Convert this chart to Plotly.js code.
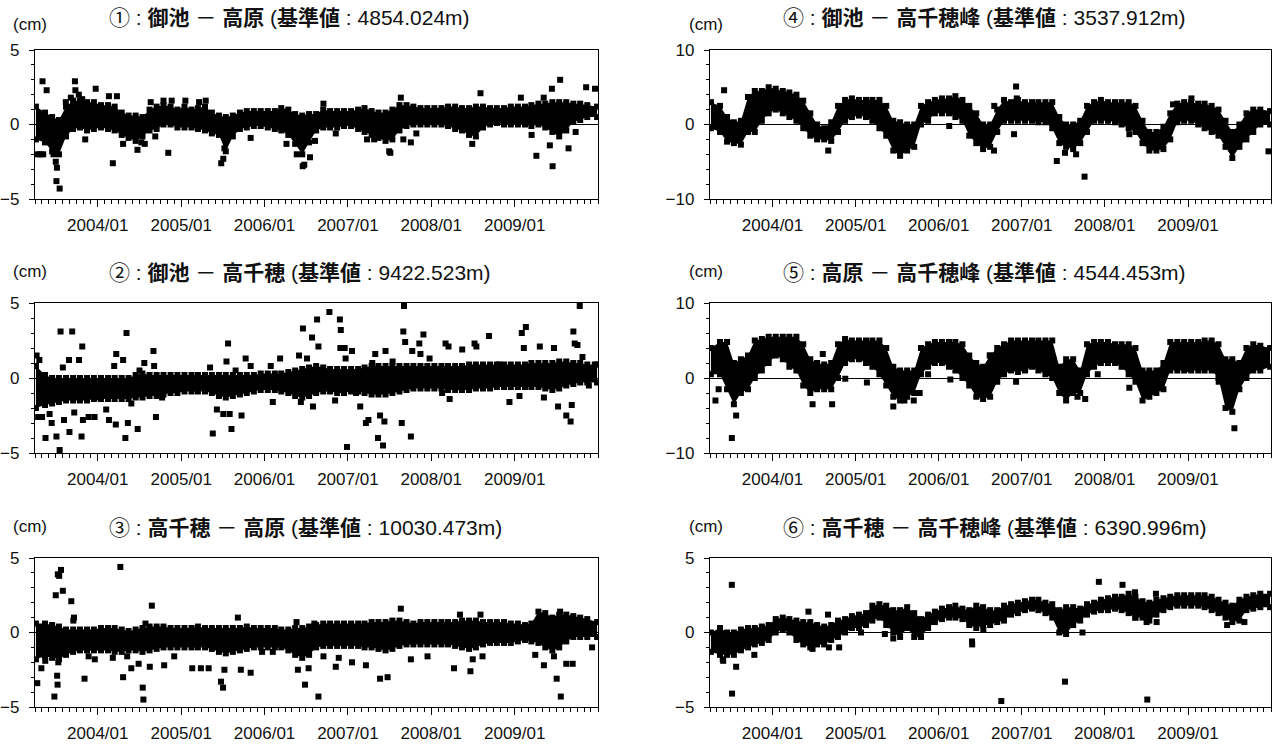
<!DOCTYPE html>
<html><head><meta charset="utf-8">
<script src="https://cdn.plot.ly/plotly-3.0.1.min.js"></script>
<style>html,body{margin:0;padding:0;background:#fff;}#chart{width:1276px;height:747px;}</style>
</head><body><div id="chart"></div>
<script>
// ---- Titles ----
const titles = [
  "① : <b>御池</b> － <b>高原</b> (<b>基準値</b> : 4854.024m)",
  "④ : <b>御池</b> － <b>高千穂峰</b> (<b>基準値</b> : 3537.912m)",
  "② : <b>御池</b> － <b>高千穂</b> (<b>基準値</b> : 9422.523m)",
  "⑤ : <b>高原</b> － <b>高千穂峰</b> (<b>基準値</b> : 4544.453m)",
  "③ : <b>高千穂</b> － <b>高原</b> (<b>基準値</b> : 10030.473m)",
  "⑥ : <b>高千穂</b> － <b>高千穂峰</b> (<b>基準値</b> : 6390.996m)"
];
const yUnit = "(cm)";
const tickFmt = "%Y/%m";
const yearTicks = ['2004-01-01','2005-01-01','2006-01-01','2007-01-01','2008-01-01','2009-01-01'];

// ---- Monthly observation months (2003/04 .. 2009/12) ----
const firstMonth = [2003, 4];
const monthCount = 81;

// ---- Panel 1: dense band upper / lower edge (cm) ----
const p1Hi = [1.2,0.8,0.5,0.3,1.2,1.6,1.6,1.5,1.5,
 1.3,1.3,1.2,0.8,0.6,0.6,0.5,1.0,1.2,1.3,1.2,1.0,
 1.2,1.0,1.1,1.2,0.8,0.6,0.5,0.6,0.8,0.9,0.9,0.9,
 0.9,0.9,1.1,1.0,0.7,0.6,0.7,0.7,1.0,0.9,0.9,0.9,
 0.9,1.0,1.1,0.9,0.8,0.8,1.0,1.3,1.3,1.2,1.1,1.1,
 1.1,1.1,1.2,1.2,1.1,1.1,1.2,1.2,1.1,1.1,1.1,1.2,
 1.2,1.2,1.3,1.4,1.4,1.5,1.5,1.5,1.4,1.4,1.3,1.2];
const p1Lo = [-1.0,-1.2,-1.8,-2.0,-0.8,-0.3,-0.2,-0.4,-0.3,
 -0.2,-0.3,-0.4,-0.7,-0.9,-1.1,-0.8,-0.4,-0.3,0.0,0.0,-0.2,
 -0.2,-0.2,-0.3,-0.4,-0.6,-0.7,-1.8,-0.8,-0.3,-0.2,-0.1,-0.1,
 -0.2,-0.3,-0.4,-0.7,-1.3,-2.0,-1.2,-0.4,-0.2,-0.2,-0.2,-0.1,
 -0.1,-0.3,-0.5,-0.7,-0.9,-1.1,-1.0,-0.4,-0.1,0.0,0.0,0.0,
 0.0,0.0,-0.1,-0.3,-0.4,-0.7,-0.8,-0.2,0.0,0.1,0.0,0.0,
 0.0,0.0,-0.1,0.0,-0.2,-0.5,-0.8,-0.4,0.2,0.3,0.5,0.5];
const p1OutDates = ['2003-04-11','2003-04-25','2003-05-07','2003-05-04','2003-05-22','2003-06-21','2003-07-01','2003-07-06','2003-07-04','2003-07-18','2003-08-14','2003-09-05','2003-09-23','2003-09-25','2003-10-10','2003-10-25','2003-11-07','2003-12-23','2004-02-19','2004-03-07','2004-03-25','2004-04-21','2004-06-23','2004-07-10','2004-07-25','2004-08-20','2004-09-09','2004-10-15','2004-11-05','2004-11-20','2005-01-19','2005-03-20','2005-04-18','2005-06-25','2005-07-04','2005-07-09','2005-11-01','2006-04-07','2006-05-22','2006-06-17','2006-06-24','2006-07-19','2006-08-10','2006-09-16','2006-11-09','2007-03-26','2007-04-26','2007-07-01','2007-07-06','2007-08-21','2007-09-01','2007-10-04','2007-10-28','2008-06-29','2008-08-04','2009-01-28','2009-03-16','2009-04-06','2009-05-08','2009-06-04','2009-06-13','2009-06-16','2009-07-19','2009-08-25','2009-09-25','2009-11-10','2009-12-19'];
const p1OutVals = [-2.0,-2.0,-2.0,2.9,2.3,-2.0,-2.5,-2.9,-3.8,-4.3,1.5,1.8,2.9,2.3,2.0,1.7,-1.0,2.4,1.9,-2.6,1.9,-1.3,-1.7,-1.2,-1.3,1.5,-0.8,1.6,-1.9,1.6,1.6,1.5,1.6,-2.6,-2.3,-1.6,-0.9,-1.3,-2.0,-2.8,-2.7,-2.2,-1.1,1.4,-0.6,-1.0,-1.0,-1.8,-1.9,1.8,-1.0,-1.2,-0.6,-1.3,2.1,1.8,-0.7,-2.1,1.8,-1.4,2.4,-2.8,3.0,-1.6,-0.5,2.5,2.4];

// ---- Panel 2 ----
const p2Hi = [0.8,0.2,0.0,0.0,0.0,0.0,0.0,0.0,0.0,
 0.0,0.0,0.0,0.0,0.0,0.2,0.3,0.2,0.2,0.2,0.2,0.2,
 0.2,0.2,0.2,0.2,0.2,0.2,0.2,0.2,0.2,0.2,0.2,0.3,
 0.3,0.3,0.3,0.4,0.5,0.6,0.7,0.8,0.7,0.6,0.6,0.6,
 0.6,0.6,0.7,0.8,0.8,0.8,0.8,0.8,0.8,0.8,0.8,0.8,
 0.8,0.8,0.8,0.8,0.8,0.9,0.9,0.9,0.9,0.9,0.9,0.9,
 0.9,0.9,1.0,1.0,1.0,1.0,1.1,1.1,1.0,1.0,0.9,0.9];
const p2Lo = [-2.0,-1.8,-1.7,-1.6,-1.5,-1.5,-1.5,-1.5,-1.4,
 -1.4,-1.4,-1.4,-1.4,-1.4,-1.3,-1.3,-1.2,-1.2,-1.1,-1.0,-1.0,
 -0.9,-0.9,-0.9,-0.9,-1.0,-1.2,-1.3,-1.2,-1.1,-1.0,-0.9,-0.8,
 -0.8,-0.8,-0.9,-1.0,-1.2,-1.3,-1.2,-1.0,-0.9,-0.9,-1.0,-1.0,
 -0.9,-0.9,-1.0,-1.1,-1.1,-1.1,-1.0,-0.9,-0.8,-0.7,-0.7,-0.7,
 -0.7,-0.7,-0.8,-0.8,-0.8,-0.8,-0.7,-0.7,-0.7,-0.6,-0.6,-0.6,
 -0.6,-0.6,-0.6,-0.6,-0.7,-0.8,-0.7,-0.5,-0.4,-0.3,-0.3,-0.3];
const p2OutDates = ['2003-04-08','2003-04-20','2003-04-15','2003-05-02','2003-05-17','2003-06-04','2003-06-13','2003-07-04','2003-07-18','2003-07-22','2003-08-01','2003-08-06','2003-08-28','2003-08-30','2003-09-11','2003-09-20','2003-10-11','2003-10-22','2003-10-25','2003-10-28','2003-11-22','2003-12-18','2004-01-06','2004-02-07','2004-02-19','2004-03-13','2004-03-22','2004-03-20','2004-04-21','2004-05-01','2004-05-06','2004-05-12','2004-05-27','2004-06-24','2004-07-02','2004-07-23','2004-09-01','2004-09-04','2004-09-12','2004-10-09','2005-05-07','2005-05-19','2005-06-06','2005-07-04','2005-07-18','2005-07-25','2005-08-01','2005-08-09','2005-08-27','2005-09-22','2005-10-10','2005-11-01','2006-01-28','2006-02-06','2006-03-10','2006-06-01','2006-06-09','2006-06-18','2006-07-06','2006-07-28','2006-08-01','2006-08-19','2006-08-25','2006-10-12','2006-11-06','2006-11-27','2006-12-01','2006-11-29','2006-12-18','2006-12-22','2006-12-28','2007-01-19','2007-02-06','2007-02-24','2007-03-21','2007-04-01','2007-04-18','2007-05-01','2007-05-13','2007-05-22','2007-06-04','2007-06-10','2007-06-15','2007-07-16','2007-08-25','2007-09-01','2007-09-04','2007-09-09','2007-09-26','2007-10-04','2007-10-10','2007-11-10','2007-11-15','2007-11-28','2007-12-25','2008-02-18','2008-03-04','2008-03-17','2008-03-22','2008-05-16','2008-07-09','2008-07-17','2008-09-10','2008-10-25','2008-12-09','2009-01-22','2009-02-01','2009-02-10','2009-02-19','2009-04-21','2009-05-09','2009-06-22','2009-07-10','2009-08-15','2009-09-03','2009-09-08','2009-09-15','2009-09-21','2009-10-03','2009-10-13','2009-10-25','2009-11-22','2009-12-18'];
const p2OutVals = [1.5,1.2,-2.6,-2.6,-4.0,-2.4,-3.0,-3.9,-4.8,3.1,0.7,-2.8,1.2,-3.6,3.1,-2.3,1.2,-3.9,2.1,-2.8,-2.6,-2.6,-1.3,-2.1,-2.8,0.8,1.6,-3.1,1.2,-4.0,3.0,-3.0,-1.7,-3.4,0.5,1.0,1.8,0.8,-2.6,-1.3,0.7,-3.7,-2.1,-2.4,1.1,2.3,-2.4,-3.4,0.5,-2.5,1.3,0.8,0.8,-1.6,1.3,1.5,-1.6,3.3,1.3,2.7,-1.9,3.9,2.1,4.4,-1.5,3.9,3.2,2.0,2.0,1.3,-4.6,1.8,-1.0,-1.9,-3.0,-2.8,1.0,1.6,-4.0,-2.5,-4.5,-2.9,1.8,1.1,-3.0,3.1,4.8,2.4,0.6,-3.9,1.8,2.3,1.6,2.9,1.3,-1.0,2.3,2.1,-1.4,1.9,2.3,2.1,2.8,0.9,-1.6,-1.2,3.0,2.0,3.4,2.1,-1.3,2.0,-1.9,-2.5,-2.9,-1.8,3.1,2.3,2.2,4.8,1.4,-0.5,0.9];

// ---- Panel 3 ----
const p3Hi = [0.6,0.6,0.5,0.4,0.2,0.2,0.2,0.2,0.2,
 0.3,0.3,0.3,0.2,0.1,0.2,0.3,0.4,0.4,0.4,0.3,0.3,
 0.3,0.3,0.4,0.3,0.3,0.3,0.3,0.3,0.3,0.4,0.3,0.3,
 0.3,0.3,0.2,0.2,0.3,0.3,0.4,0.5,0.6,0.6,0.6,0.6,
 0.6,0.6,0.6,0.7,0.7,0.7,0.8,0.8,0.7,0.6,0.7,0.7,
 0.7,0.7,0.7,0.7,0.8,0.8,0.8,0.7,0.7,0.7,0.7,0.6,
 0.6,0.5,0.6,1.4,1.3,1.0,1.2,1.2,1.1,1.0,0.9,0.7];
const p3Lo = [-1.8,-1.6,-1.7,-1.8,-1.5,-1.3,-1.2,-1.2,-1.2,
 -1.2,-1.2,-1.3,-1.3,-1.2,-1.2,-1.3,-1.2,-1.1,-1.0,-1.0,-1.0,
 -1.0,-1.0,-1.0,-1.0,-1.1,-1.3,-1.4,-1.3,-1.2,-1.1,-1.0,-1.0,
 -1.0,-1.0,-1.0,-1.2,-1.5,-1.7,-1.5,-1.0,-0.9,-0.9,-0.9,-0.9,
 -0.9,-0.9,-1.0,-1.0,-1.1,-1.2,-1.1,-0.9,-0.8,-0.8,-0.8,-0.8,
 -0.8,-0.8,-0.8,-0.9,-1.0,-1.1,-1.0,-0.8,-0.7,-0.7,-0.7,-0.7,
 -0.6,-0.5,-0.6,-0.7,-1.0,-1.2,-1.0,-0.6,-0.3,-0.3,-0.3,-0.3];
const p3OutDates = ['2003-04-11','2003-04-29','2003-05-16','2003-06-25','2003-07-01','2003-07-07','2003-07-09','2003-07-10','2003-07-16','2003-07-24','2003-08-01','2003-07-12','2003-09-07','2003-09-16','2003-09-19','2003-11-04','2003-11-22','2003-12-19','2004-03-07','2004-04-09','2004-04-21','2004-05-09','2004-05-27','2004-06-28','2004-07-16','2004-07-19','2004-07-28','2004-08-16','2004-08-25','2004-10-18','2004-12-01','2005-02-18','2005-03-28','2005-05-01','2005-06-24','2005-07-03','2005-07-09','2005-09-06','2005-09-19','2005-11-01','2005-12-21','2006-02-06','2006-05-21','2006-05-27','2006-06-27','2006-07-13','2006-08-07','2006-08-25','2006-09-16','2006-11-09','2006-11-22','2007-01-19','2007-03-21','2007-05-22','2007-06-24','2007-08-21','2007-10-04','2007-12-16','2008-04-10','2008-05-06','2008-06-21','2008-07-01','2008-08-04','2008-08-13','2009-04-01','2009-05-09','2009-06-22','2009-07-04','2009-07-19','2009-07-22','2009-08-15','2009-09-12','2009-12-06'];
const p3OutVals = [-3.4,-2.4,-1.9,-4.3,2.5,-2.9,-3.5,3.9,3.8,4.2,2.8,-2.0,2.1,0.8,1.0,-3.1,-1.6,-1.8,-1.7,4.4,-3.0,-1.6,-2.4,-2.1,-3.7,-4.5,0.6,-2.3,1.8,-2.2,-1.6,-2.4,-2.4,-2.4,-3.3,-3.7,-2.5,1.0,-2.5,-2.7,-1.3,-1.3,0.7,-2.5,-3.5,-2.4,0.6,-4.3,-1.6,-2.3,-1.7,-2.0,-2.2,-3.1,-3.0,1.6,-1.8,-1.6,-2.4,1.2,-2.6,-1.8,1.2,-1.6,-1.5,-2.2,-1.6,-3.1,1.4,-4.3,-2.1,-2.1,-1.0];

// ---- Panel 4 ----
const p4Hi = [3.0,2.5,1.0,0.3,0.5,3.7,4.5,4.5,5.0,
 4.8,4.5,4.3,4.0,3.2,1.5,0.0,-0.5,0.3,2.5,3.3,3.5,
 3.3,3.3,3.3,3.3,2.5,0.5,0.3,0.0,0.0,2.5,3.0,3.3,
 3.5,3.5,3.8,3.3,2.5,1.5,0.0,0.0,2.0,3.3,3.0,3.3,
 3.0,3.0,3.0,3.0,3.0,1.0,0.0,0.0,0.5,2.5,3.0,3.3,
 3.0,3.0,3.0,3.0,2.5,0.5,-1.0,-1.0,-0.3,1.5,2.8,3.0,
 3.0,2.8,2.8,2.5,2.0,0.5,-1.0,0.0,1.5,2.0,2.0,1.8];
const p4Lo = [-0.5,-1.0,-2.3,-2.5,-2.7,-1.0,-1.0,0.5,1.5,
 2.0,1.5,1.0,0.5,-0.5,-1.5,-2.0,-2.0,-2.2,-1.0,0.5,1.0,
 1.2,1.0,0.5,-0.5,-1.5,-3.5,-4.2,-3.5,-3.0,0.0,0.5,1.5,
 1.5,1.5,1.0,0.5,-1.5,-2.5,-3.3,-3.0,-1.0,0.5,0.5,0.5,
 0.5,0.5,0.3,0.3,-0.5,-2.5,-3.0,-3.3,-2.5,-1.0,0.5,0.5,
 0.5,0.3,0.0,-0.5,-1.0,-2.5,-3.5,-3.5,-3.3,-2.0,0.3,0.5,
 0.5,0.0,-0.5,-1.0,-1.5,-3.0,-4.5,-3.0,-2.0,-1.0,0.0,0.0];
const p4OutDates = ['2003-06-02','2004-09-02','2006-02-16','2006-09-01','2006-09-02','2006-11-28','2006-12-07','2006-12-10','2007-06-04','2007-07-10','2007-08-28','2007-10-04','2008-04-18','2008-10-27','2009-01-16','2009-12-21'];
const p4OutVals = [4.6,-3.5,-0.2,-3.5,2.5,-1.3,5.1,3.5,-4.9,-3.8,-4.0,-7.0,-1.3,2.7,3.5,-3.6];

// ---- Panel 5 ----
const p5Hi = [4.0,4.8,4.8,2.0,2.5,3.0,5.0,5.2,5.5,
 5.5,5.5,5.5,5.5,4.5,2.5,2.0,1.8,2.0,4.5,5.2,5.0,
 5.0,5.0,5.0,5.0,4.0,1.5,1.0,1.0,1.0,4.0,4.5,4.8,
 4.8,4.8,4.8,4.5,3.0,2.0,1.5,3.0,4.0,4.5,5.0,5.0,
 5.0,5.0,5.0,5.0,5.0,1.5,2.5,2.5,1.0,4.5,4.8,4.8,
 4.8,4.5,4.5,4.5,4.0,1.0,1.0,1.0,2.0,4.8,4.8,4.8,
 4.8,4.8,5.0,5.0,4.5,2.5,2.5,2.0,4.0,4.5,4.3,4.0];
const p5Lo = [0.5,0.5,-1.5,-3.5,-2.0,-1.5,0.0,1.0,2.0,
 3.0,2.5,1.5,1.0,-1.0,-2.0,-1.5,-1.5,-1.5,0.0,2.0,2.5,
 2.5,2.0,1.5,0.5,-1.0,-2.5,-3.0,-2.5,-2.0,0.5,1.5,2.0,
 2.0,1.5,1.0,0.0,-1.0,-2.5,-2.8,-2.5,-0.5,0.5,1.0,0.8,
 1.0,1.5,1.0,0.5,0.0,-2.0,-3.0,-2.0,-2.0,0.5,1.5,2.0,
 2.0,2.0,1.5,0.5,-0.5,-3.0,-2.5,-2.0,-1.5,1.0,1.0,1.0,
 1.0,1.0,1.0,1.0,0.0,-4.0,-4.5,-1.5,0.0,1.0,1.0,1.5];
const p5OutDates = ['2003-04-25','2003-05-09','2003-07-06','2003-07-25','2004-06-25','2004-08-09','2004-09-19','2004-11-16','2005-02-19','2005-06-15','2005-08-03','2005-09-13','2005-10-09','2005-11-15','2006-02-21','2006-08-13','2006-12-07','2007-01-16','2007-09-03','2007-10-07','2007-12-01','2008-04-18','2008-12-25','2009-05-16','2009-07-24'];
const p5OutVals = [-3.0,-1.5,-8.0,-5.0,-3.5,3.2,-3.5,-0.1,-0.6,-3.8,-3.0,-3.0,-2.0,0.5,-0.2,3.0,-0.5,1.2,-2.5,-2.8,0.5,-1.3,1.2,-0.5,-6.7];

// ---- Panel 6 ----
const p6Hi = [0.0,0.3,0.0,0.0,0.2,0.3,0.3,0.4,0.5,
 0.9,1.0,0.9,0.8,0.7,0.7,0.5,0.4,0.5,0.8,0.9,1.1,
 1.2,1.3,1.8,1.9,1.8,1.5,1.5,1.7,1.3,0.9,1.2,1.4,
 1.6,1.7,1.8,1.6,1.5,1.8,1.7,1.5,1.5,1.8,1.9,2.0,
 2.1,2.2,2.2,2.0,1.9,1.5,1.7,1.7,1.6,1.9,2.0,2.2,
 2.3,2.4,2.4,2.6,2.4,2.1,2.0,2.2,2.3,2.4,2.5,2.5,
 2.5,2.5,2.5,2.4,2.2,2.0,1.8,2.2,2.4,2.5,2.6,2.6];
const p6Lo = [-1.3,-1.5,-1.5,-1.5,-1.2,-1.0,-0.8,-0.7,-0.5,
 0.0,0.2,0.0,-0.5,-0.8,-1.0,-0.8,-0.8,-0.5,-0.3,0.0,0.3,
 0.3,0.5,0.8,1.0,0.5,0.0,-0.3,0.3,-0.3,-0.3,0.3,0.7,
 0.9,1.0,1.0,0.9,0.5,0.3,0.5,0.5,0.7,0.8,1.2,1.3,
 1.5,1.6,1.5,1.3,1.0,0.0,-0.1,0.5,0.8,1.2,1.4,1.5,
 1.5,1.6,1.5,1.3,1.0,1.0,0.8,1.2,1.5,1.7,1.8,1.8,
 1.8,1.8,1.7,1.5,1.3,1.0,0.7,0.8,1.5,1.6,1.7,1.7];
const p6OutDates = ['2003-05-27','2003-05-29','2003-07-06','2003-07-07','2003-07-25','2003-10-13','2004-06-07','2004-06-25','2004-09-01','2004-09-05','2004-10-20','2005-01-24','2005-05-09','2005-06-15','2006-05-27','2006-05-28','2006-07-16','2006-10-03','2007-06-21','2007-07-10','2007-09-25','2007-12-06','2008-03-19','2008-05-13','2008-05-14','2008-07-03','2008-07-06','2008-08-13','2008-08-16','2009-06-22','2009-09-06'];
const p6OutVals = [-1.8,-1.9,3.2,-4.1,-2.3,-1.5,1.4,-1.1,1.2,-1.0,-1.0,0.0,-0.1,-0.4,-0.6,-0.8,0.2,-4.6,0.1,-3.3,0.0,3.4,3.2,2.7,1.0,0.7,-4.5,2.6,0.7,0.5,0.7];

// ---- Build dates for monthly band samples ----
const bandDates = [];
{
  let y = firstMonth[0], m = firstMonth[1];
  for (let i = 0; i < monthCount; i++) {
    let day = '15';
    if (i === 0) day = '05';
    if (i === monthCount - 1) day = '28';
    bandDates.push(y + '-' + String(m).padStart(2, '0') + '-' + day);
    m++; if (m > 12) { m = 1; y++; }
  }
}

const panels = [
  {hi:p1Hi, lo:p1Lo, od:p1OutDates, ov:p1OutVals, range:5,  minor:1},
  {hi:p4Hi, lo:p4Lo, od:p4OutDates, ov:p4OutVals, range:10, minor:2},
  {hi:p2Hi, lo:p2Lo, od:p2OutDates, ov:p2OutVals, range:5,  minor:1},
  {hi:p5Hi, lo:p5Lo, od:p5OutDates, ov:p5OutVals, range:10, minor:2},
  {hi:p3Hi, lo:p3Lo, od:p3OutDates, ov:p3OutVals, range:5,  minor:1},
  {hi:p6Hi, lo:p6Lo, od:p6OutDates, ov:p6OutVals, range:5,  minor:1}
];

// pixel geometry
const W = 1276, H = 747;
const colX = [[35, 598], [710, 1271]];
const rowY = [[50, 199], [303, 453], [558, 707]];
const titleY = [18, 272, 527];
const unitY = [25, 271, 526];
const titleX = [107, 781];
const unitX = [30, 706];

const traces = [];
const layout = {
  width: W, height: H,
  margin: {l:0, r:0, t:0, b:0},
  paper_bgcolor: '#fff', plot_bgcolor: '#fff',
  showlegend: false,
  annotations: []
};
const latin = 'Liberation Sans, Arial, sans-serif';

panels.forEach((p, i) => {
  const col = i % 2, row = Math.floor(i / 2);
  const sfx = i === 0 ? '' : String(i + 1);
  const xa = 'x' + sfx, ya = 'y' + sfx;

  const polyX = bandDates.concat(bandDates.slice().reverse());
  const polyY = p.hi.concat(p.lo.slice().reverse());
  traces.push({type:'scatter', mode:'lines', x: polyX, y: polyY, fill:'toself',
    fillcolor:'#000', line:{width:0, color:'#000'}, hoverinfo:'skip', xaxis:xa, yaxis:ya});
  traces.push({type:'scatter', mode:'markers', x: bandDates.concat(bandDates), y: p.hi.concat(p.lo),
    marker:{symbol:'square', size:6, color:'#000'}, xaxis:xa, yaxis:ya});
  traces.push({type:'scatter', mode:'markers', x: p.od, y: p.ov,
    marker:{symbol:'square', size:6, color:'#000'}, xaxis:xa, yaxis:ya});

  layout['xaxis' + sfx] = {
    type:'date', domain:[colX[col][0]/W, colX[col][1]/W], anchor: ya,
    range:['2003-04-01','2010-01-01'], tickmode:'array', tickvals: yearTicks, tickformat: tickFmt,
    ticks:'outside', ticklen:7, tickcolor:'#000', tickwidth:1,
    showline:true, mirror:true, linecolor:'#000', linewidth:1.2,
    showgrid:false, zeroline:false, ticklabelstandoff: 3,
    tickfont:{family:latin, size:17, color:'#111'},
    minor:{tick0:'2003-04-01', dtick:'M1', ticks:'outside', ticklen:4, tickcolor:'#000', tickwidth:1, showgrid:false}
  };
  layout['yaxis' + sfx] = {
    domain:[1 - rowY[row][1]/H, 1 - rowY[row][0]/H], anchor: xa,
    range:[-p.range, p.range], tickvals:[-p.range, 0, p.range],
    ticks:'outside', ticklen:5, tickcolor:'#000', tickwidth:1,
    showline:true, mirror:true, linecolor:'#000', linewidth:1.2,
    showgrid:false, zeroline:true, zerolinecolor:'#000', zerolinewidth:1,
    ticklabelstandoff: 6,
    tickfont:{family:latin, size:17, color:'#111'},
    minor:{dtick:p.minor, ticks:'outside', ticklen:3, tickcolor:'#000', tickwidth:1, showgrid:false}
  };

  layout.annotations.push({xref:'paper', yref:'paper', x: titleX[col]/W, y: 1 - titleY[row]/H,
    xanchor:'left', yanchor:'middle', showarrow:false, text: titles[i],
    font:{family:'Liberation Sans, Noto Sans CJK JP, sans-serif', size:21, color:'#111'}});
  layout.annotations.push({xref:'paper', yref:'paper', x: unitX[col]/W, y: 1 - unitY[row]/H,
    xanchor:'center', yanchor:'middle', showarrow:false, text: yUnit,
    font:{family:latin, size:17, color:'#111'}});
});

Plotly.newPlot('chart', traces, layout, {staticPlot:true, displayModeBar:false});
</script>
</body></html>
